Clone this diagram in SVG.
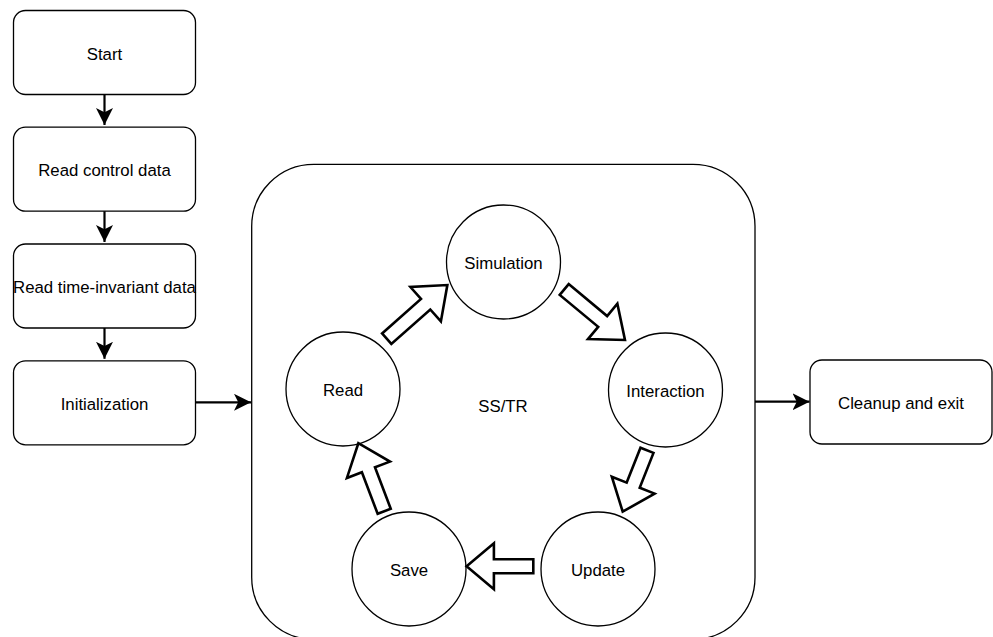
<svg xmlns="http://www.w3.org/2000/svg" width="993" height="637" viewBox="0 0 993 637">
<style>
  .box{fill:#fff;stroke:#000;stroke-width:1.3}
  .circ{fill:#fff;stroke:#000;stroke-width:1.3}
  .lbl{font-family:"Liberation Sans",Arial,sans-serif;font-size:16.8px;fill:#000;text-anchor:middle}
  .conn{fill:none;stroke:#000;stroke-width:2.2}
  .block{fill:#fff;stroke:#000;stroke-width:2.6;stroke-linejoin:miter}
</style>
<defs>
  <marker id="ah" viewBox="0 0 16 16" markerWidth="17" markerHeight="17" refX="16" refY="8" orient="auto" markerUnits="userSpaceOnUse">
    <path d="M0,0 L16,8 L0,16 L4,8 Z" fill="#000"/>
  </marker>
</defs>
<rect width="993" height="637" fill="#fff"/>
<g id="container">
  <rect class="box" x="251.7" y="164.3" width="503.3" height="475" rx="62" ry="62"/>
  <text class="lbl" x="503" y="412">SS/TR</text>
</g>
<g id="start">
  <rect class="box" x="13.5" y="10.5" width="182" height="84" rx="12" ry="12"/>
  <text class="lbl" x="104.5" y="59.5">Start</text>
</g>
<g id="read-control">
  <rect class="box" x="13.5" y="127.2" width="182" height="84" rx="12" ry="12"/>
  <text class="lbl" x="104.5" y="176.2">Read control data</text>
</g>
<g id="read-time-invariant">
  <rect class="box" x="13.5" y="244" width="182" height="84" rx="12" ry="12"/>
  <text class="lbl" x="104.5" y="293">Read time-invariant data</text>
</g>
<g id="initialization">
  <rect class="box" x="13.5" y="360.8" width="182" height="84" rx="12" ry="12"/>
  <text class="lbl" x="104.5" y="409.8">Initialization</text>
</g>
<g id="cleanup">
  <rect class="box" x="810" y="360" width="182" height="84" rx="12" ry="12"/>
  <text class="lbl" x="901" y="409">Cleanup and exit</text>
</g>
<g id="simulation">
  <circle class="circ" cx="503.5" cy="262" r="57"/>
  <text class="lbl" x="503.5" y="268.5">Simulation</text>
</g>
<g id="interaction">
  <circle class="circ" cx="665.5" cy="390" r="57"/>
  <text class="lbl" x="665.5" y="396.5">Interaction</text>
</g>
<g id="read">
  <circle class="circ" cx="343" cy="389" r="57"/>
  <text class="lbl" x="343" y="395.5">Read</text>
</g>
<g id="update">
  <circle class="circ" cx="598" cy="569" r="57"/>
  <text class="lbl" x="598" y="575.5">Update</text>
</g>
<g id="save">
  <circle class="circ" cx="409" cy="569" r="57"/>
  <text class="lbl" x="409" y="575.5">Save</text>
</g>
<g id="connectors">
  <line class="conn" x1="104.5" y1="94.5" x2="104.5" y2="125" marker-end="url(#ah)"/>
  <line class="conn" x1="104.5" y1="211.2" x2="104.5" y2="242" marker-end="url(#ah)"/>
  <line class="conn" x1="104.5" y1="328" x2="104.5" y2="358.8" marker-end="url(#ah)"/>
  <line class="conn" x1="195.5" y1="402.3" x2="251" y2="402.3" marker-end="url(#ah)"/>
  <line class="conn" x1="755" y1="401.7" x2="809.5" y2="401.7" marker-end="url(#ah)"/>
  <path class="block" transform="translate(386.7,338.7) rotate(-41.5)" d="M0,-7 H52 V-23 L81,0 L52,23 V7 H0 Z"/>
  <path class="block" transform="translate(564.2,289.5) rotate(39.7)" d="M0,-7 H50 V-23 L79,0 L50,23 V7 H0 Z"/>
  <path class="block" transform="translate(647,450.3) rotate(111.6)" d="M0,-7 H37.5 V-23 L66,0 L37.5,23 V7 H0 Z"/>
  <path class="block" transform="translate(533.3,566.3) rotate(180)" d="M0,-7 H39.4 V-23 L66.7,0 L39.4,23 V7 H0 Z"/>
  <path class="block" transform="translate(384.2,511.3) rotate(-110.8)" d="M0,-7 H44.4 V-23 L72.8,0 L44.4,23 V7 H0 Z"/>
</g>
</svg>
